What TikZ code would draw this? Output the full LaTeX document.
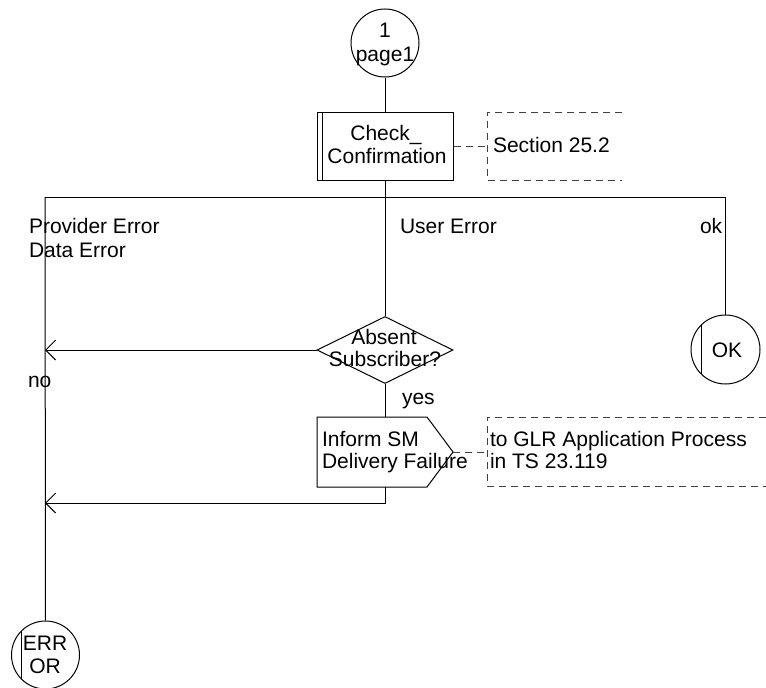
\documentclass[tikz,border=0pt]{standalone}
\usepackage{fontspec}
\setmainfont{Liberation Sans}
\usetikzlibrary{shapes.geometric,arrows.meta,calc}
\begin{document}
\begin{tikzpicture}[x=1pt,y=-1pt,
  every node/.style={font=\fontsize{21}{24}\selectfont},
  txt/.style={inner sep=0pt, outer sep=0pt},
  ln/.style={line width=1pt, draw=black},
  conn/.style={ln, circle, minimum size=68pt, inner sep=0pt},
  arr/.style={ln, -{Straight Barb[length=10pt, width=20pt, line width=1pt]}},
  cmt/.style={line width=1pt, draw=black!75, dash pattern=on 7pt off 5pt},
]
\useasboundingbox (0,0) rectangle (766,688);

% start connector
\node[conn] (start) at (385,43) {};
\node[txt, anchor=base] (s1) at (385,37) {1};
\node[txt, anchor=base] (s2) at (385,61) {page1};

% procedure call box
\node[ln, rectangle, minimum width=136pt, minimum height=68pt, inner sep=0pt] (chk) at (385,146) {};
\draw[ln] ($(chk.north west)+(6,0)$) -- ($(chk.south west)+(6,0)$);
\node[txt, anchor=base] (chk1) at (386,140) {Check\_};
\node[txt, anchor=base] (chk2) at (387,163) {Confirmation};
\draw[ln] (start) -- (chk);

% comment 1
\coordinate (c1) at (487,146);
\draw[cmt] (chk.east) -- (c1);
\draw[cmt] (622,112) -- (487,112) -- (487,180) -- (622,180);
\node[txt, anchor=base west] (sec) at (493,152) {Section 25.2};

% branch line
\coordinate (bl) at (45,197);
\coordinate (br) at (725.5,197);
\draw[ln] (bl) -- (br);
\node[txt, anchor=base west] (pe1) at (29,233) {Provider Error};
\node[txt, anchor=base west] (pe2) at (29,257) {Data Error};
\node[txt, anchor=base west] (ue) at (400,233) {User Error};
\node[txt, anchor=base west] (okl) at (700,233) {ok};

% decision
\node[ln, diamond, minimum width=136pt, minimum height=67pt, inner sep=0pt] (dia) at (385,350) {};
\node[txt, anchor=base] (d1) at (384,344) {Absent};
\node[txt, anchor=base] (d2) at (385,366) {Subscriber?};
\draw[ln] (chk.south) -- (dia.north);
\coordinate (nj) at (45,350);
\draw[arr] (dia.west) -- (nj);
\node[txt, anchor=base west] (no) at (28,387) {no};
\node[txt, anchor=base west] (yes) at (402,404) {yes};

% output signal
\coordinate (sigtop) at (385,417);
\coordinate (sigtip) at (453,452);
\coordinate (sigbot) at (385,487);
\draw[ln] (317,417) -- (427,417) -- (sigtip) -- (427,487) -- (317,487) -- cycle;
\node[txt, anchor=base west] (o1) at (322,446) {Inform SM};
\node[txt, anchor=base west] (o2) at (322,468) {Delivery Failure};
\draw[ln] (dia.south) -- (sigtop);

% comment 2
\coordinate (c2) at (487,452);
\draw[cmt] (sigtip) -- (c2);
\draw[cmt] (766,417) -- (487,417) -- (487,486) -- (766,486);
\node[txt, anchor=base west] (g1) at (490,446) {to GLR Application Process};
\node[txt, anchor=base west] (g2) at (490,468) {in TS 23.119};

% return line
\coordinate (rl) at (45,503);
\draw[arr] (sigbot) |- (rl);

% OK connector
\node[conn, minimum size=69pt] (ok) at (725.5,349.5) {};
\draw[ln] ($(ok.center)+(-24.5,-24.3)$) -- ($(ok.center)+(-24.5,24.3)$);
\node[txt, anchor=base] (okt) at (727,357) {OK};
\draw[ln] (br) -- (ok.north);

% ERROR connector
\node[conn] (err) at (45.5,655) {};
\draw[ln] ($(err.center)+(-24.5,-23.6)$) -- ($(err.center)+(-24.5,23.6)$);
\node[txt, anchor=base] (e1) at (45,650) {ERR};
\node[txt, anchor=base] (e2) at (45,673) {OR};
\draw[ln] (bl) -- (err.north);
\end{tikzpicture}
\end{document}
